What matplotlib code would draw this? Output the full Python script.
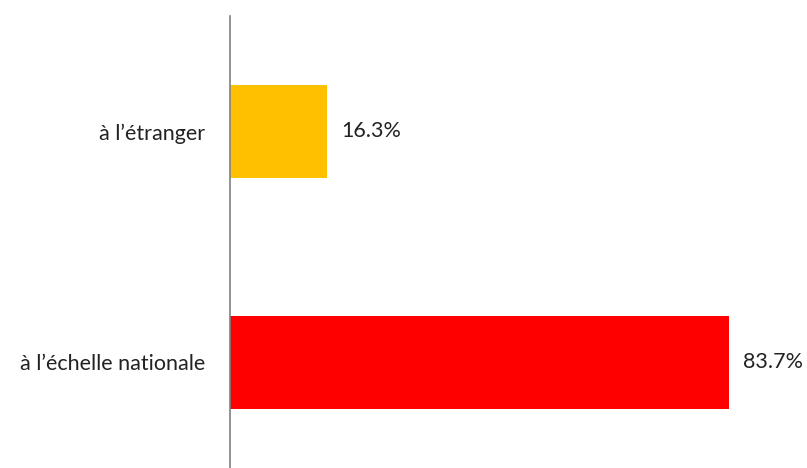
import matplotlib
matplotlib.use("Agg")
import matplotlib.pyplot as plt

categories = ["à l’échelle nationale", "à l’étranger"]
values = [83.7, 16.3]
colors = ["#FF0000", "#FFC000"]
value_labels = ["83.7%", "16.3%"]

plt.rcParams['font.family'] = ['Lato', 'DejaVu Sans']

fig = plt.figure(figsize=(8.07, 4.68), dpi=100)
ax = fig.add_axes([230/807, 0, 1 - 230/807, (468-16)/468])

ypos = list(range(len(categories)))
ax.barh(ypos, values, height=0.403, color=colors, zorder=2)

ax.set_xlim(0, (807-230)/5.96)
ax.set_ylim(-0.457, 1.5)

ax.set_yticks(ypos)
ax.set_yticklabels(categories, fontsize=15.5, color="#222222")
ax.tick_params(axis='y', length=0, pad=18)
ax.set_xticks([])

for s in ["top", "right", "bottom"]:
    ax.spines[s].set_visible(False)
ax.spines["left"].set_color("#808080")
ax.spines["left"].set_linewidth(1.2)

for y, v, lab in zip(ypos, values, value_labels):
    ax.annotate(lab, xy=(v, y), xytext=(10, 0), textcoords="offset points",
                va="center", ha="left", fontsize=15.5, color="#222222",
                annotation_clip=False)

fig.savefig("out.png", dpi=100)
